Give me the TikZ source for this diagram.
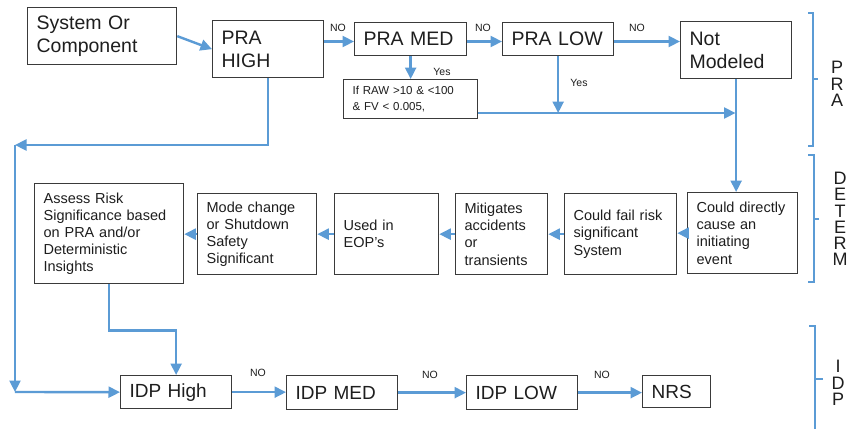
\documentclass[tikz,border=0pt]{standalone}
\usepackage{fontspec}
\setmainfont{Liberation Sans}
\usetikzlibrary{arrows.meta}
\definecolor{flow}{RGB}{91,155,213}
\definecolor{boxline}{RGB}{58,58,58}
\definecolor{ink}{RGB}{30,30,30}
\newcommand{\bigf}{\fontsize{19.5}{23}\selectfont}
\newcommand{\idpf}{\fontsize{19}{22}\selectfont}
\newcommand{\midf}{\fontsize{14.5}{17.2}\selectfont}
\newcommand{\smlf}{\fontsize{11.5}{16}\selectfont}
\newcommand{\lblf}{\fontsize{10.5}{12}\selectfont}
\newcommand{\brkf}{\fontsize{18}{16.3}\selectfont}
\begin{document}
\begin{tikzpicture}[x=1pt,y=-1pt,
  box/.style={draw=boxline, line width=1.3pt, inner xsep=9pt, inner ysep=2pt,
    align=left, anchor=north west, text=ink},
  arr/.style={draw=flow, line width=2.4pt, -{Triangle[length=11.5pt,width=11pt]}},
  brk/.style={draw=flow, line width=2pt},
  lbl/.style={font=\lblf, text=ink, inner sep=0pt},
  brklbl/.style={font=\brkf, text=ink, align=center, inner sep=0pt}]
\useasboundingbox[fill=white] (0,0) rectangle (854,429);
% top row
\node[box, minimum width=149pt, minimum height=57pt, text width=131pt, font=\bigf] (sys) at (27,7) {System Or\\Component};
\node[box, minimum width=111pt, minimum height=57pt, text width=93pt, font=\bigf] (prahigh) at (212,20) {PRA\\HIGH};
\node[box, minimum width=112pt, minimum height=33pt, text width=94pt, font=\bigf] (pramed) at (354,22) {PRA MED};
\node[box, minimum width=111pt, minimum height=33pt, text width=93pt, font=\bigf] (pralow) at (502,22) {PRA LOW};
\node[box, minimum width=111pt, minimum height=57pt, text width=93pt, font=\bigf] (notmod) at (680,21) {Not\\Modeled};
\node[box, minimum width=134pt, minimum height=39pt, text width=116pt, font=\smlf] (ifraw) at (343,79) {If RAW >10 \& <100\\\& FV < 0.005,};
% middle row
\node[box, minimum width=149pt, minimum height=100pt, text width=131pt, font=\midf] (assess) at (34,183) {Assess Risk\\Significance based\\on PRA and/or\\Deterministic\\Insights};
\node[box, minimum width=119pt, minimum height=81pt, text width=101pt, font=\midf] (mode) at (197,193) {Mode change\\or Shutdown\\Safety\\Significant};
\node[box, minimum width=104pt, minimum height=81pt, text width=86pt, font=\midf] (used) at (334,193) {Used in\\EOP's};
\node[box, minimum width=92pt, minimum height=81pt, text width=74pt, font=\midf] (mitig) at (455,193) {Mitigates\\accidents\\or\\transients};
\node[box, minimum width=112pt, minimum height=81pt, text width=94pt, font=\midf] (cfail) at (564,193) {Could fail risk\\significant\\System};
\node[box, minimum width=110pt, minimum height=81pt, text width=92pt, font=\midf] (cdir) at (687,192) {Could directly\\cause an\\initiating\\event};
% bottom row
\node[box, minimum width=111pt, minimum height=33pt, text width=93pt, font=\idpf] (idphigh) at (120,375) {IDP High};
\node[box, minimum width=111pt, minimum height=34pt, text width=93pt, font=\idpf] (idpmed) at (286,375) {IDP MED};
\node[box, minimum width=111pt, minimum height=34pt, text width=93pt, font=\idpf] (idplow) at (466,375) {IDP LOW};
\node[box, minimum width=68pt, minimum height=32pt, text width=50pt, font=\idpf] (nrs) at (642,375) {NRS};
% junction coordinates
\coordinate (j2) at (735.5,113);
\coordinate (c1) at (15,145);
\coordinate (c2) at (15,392);
% top connectors
\draw[arr] (sys.east) -- (prahigh.west);
\draw[arr] (prahigh.east |- 0,41.5) -- (pramed.west |- 0,41.5);
\draw[arr] (pramed.east |- 0,41.5) -- (pralow.west |- 0,41.5);
\draw[arr] (pralow.east |- 0,41.5) -- (notmod.west |- 0,41.5);
\draw[arr] (pramed.south) -- (ifraw.north);
\draw[arr] (pralow.south) -- (pralow.south |- j2);
\draw[arr] (ifraw.east |- j2) -- (j2);
\draw[arr] (notmod.south) -- (notmod.south |- cdir.north);
\draw[arr] (prahigh.south) -- (prahigh.south |- c1) -- (c1);
\draw[arr] (c1) -- (c2);
\draw[arr] (c2) -- (idphigh.west);
% middle connectors
\draw[arr] (cdir.west) -- (cdir.west -| cfail.east);
\draw[arr] (cfail.west) -- (cfail.west -| mitig.east);
\draw[arr] (mitig.west) -- (mitig.west -| used.east);
\draw[arr] (used.west) -- (used.west -| mode.east);
\draw[arr] (mode.west) -- (mode.west -| assess.east);
\draw[arr] (assess.south) -- ++(0,46) -| (idphigh.north);
% bottom connectors
\draw[arr] (idphigh.east) -- (idphigh.east -| idpmed.west);
\draw[arr] (idpmed.east) -- (idpmed.east -| idplow.west);
\draw[arr] (idplow.east) -- (idplow.east -| nrs.west);
% labels
\node[lbl] (no1) at (338,28) {NO};
\node[lbl] (no2) at (483,28) {NO};
\node[lbl] (no3) at (637,28) {NO};
\node[lbl] (yes1) at (442,72) {Yes};
\node[lbl] (yes2) at (579,83) {Yes};
\node[lbl] (no4) at (258,373) {NO};
\node[lbl] (no5) at (430,375) {NO};
\node[lbl] (no6) at (602,375) {NO};
% brackets
\draw[brk] (808,13) -- (813,13) -- (813,146) -- (808,146);
\draw[brk] (813,79) -- (818,79);
\draw[brk] (808,155) -- (813.5,155) -- (813.5,282) -- (808,282);
\draw[brk] (813.5,219) -- (819,219);
\draw[brk] (809,326) -- (815,326) -- (815,429);
\draw[brk] (815,379) -- (823,379);
\node[brklbl] (tpra) at (837,84) {P\\R\\A};
\node[brklbl] (tdet) at (840,219) {D\\E\\T\\E\\R\\M};
\node[brklbl] (tidp) at (838,383) {I\\D\\P};
\end{tikzpicture}
\end{document}
